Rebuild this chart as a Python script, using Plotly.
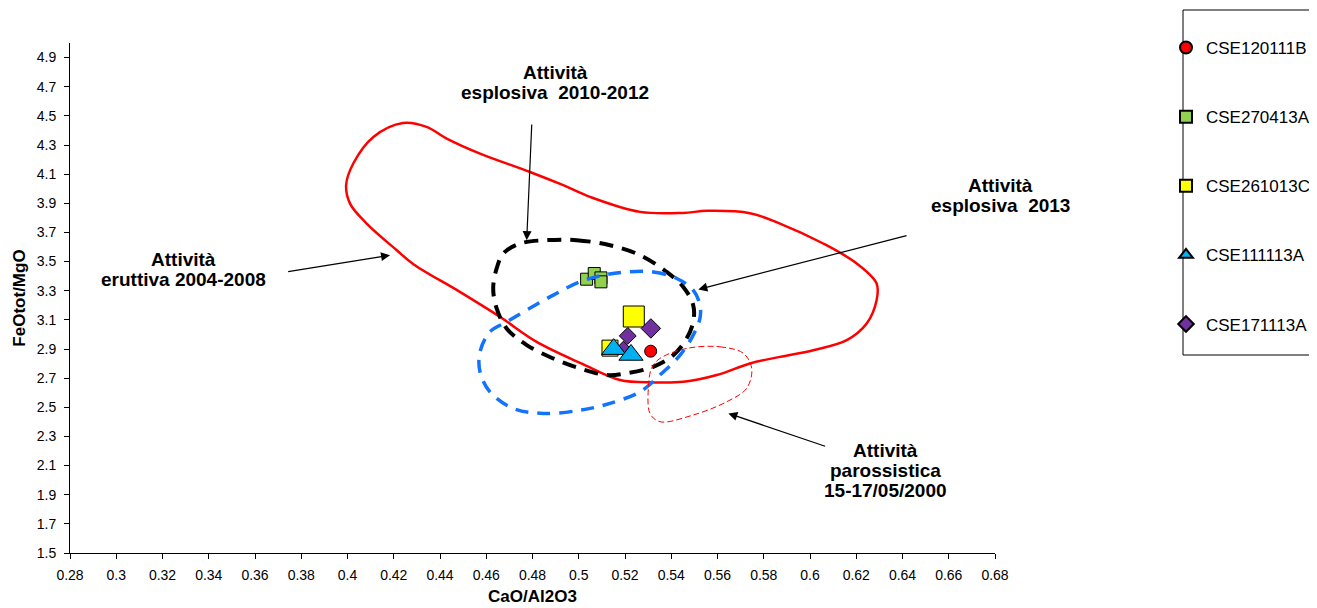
import plotly.graph_objects as go

# ---------------- data ----------------
x_ticks = [0.28, 0.30, 0.32, 0.34, 0.36, 0.38, 0.40, 0.42, 0.44, 0.46, 0.48,
           0.50, 0.52, 0.54, 0.56, 0.58, 0.60, 0.62, 0.64, 0.66, 0.68]
x_tick_labels = ["0.28", "0.3", "0.32", "0.34", "0.36", "0.38", "0.4", "0.42", "0.44",
                 "0.46", "0.48", "0.5", "0.52", "0.54", "0.56", "0.58", "0.6", "0.62",
                 "0.64", "0.66", "0.68"]
y_ticks = [1.5, 1.7, 1.9, 2.1, 2.3, 2.5, 2.7, 2.9, 3.1, 3.3, 3.5, 3.7, 3.9, 4.1, 4.3, 4.5, 4.7, 4.9]
y_tick_labels = ["1.5", "1.7", "1.9", "2.1", "2.3", "2.5", "2.7", "2.9", "3.1", "3.3",
                 "3.5", "3.7", "3.9", "4.1", "4.3", "4.5", "4.7", "4.9"]

# samples (CaO/Al2O3, FeOtot/MgO)
cse120111b_x = [0.5311]
cse120111b_y = [2.885]
cse270413a_x = [0.5034, 0.5067, 0.5096, 0.5096]
cse270413a_y = [3.379, 3.418, 3.388, 3.361]
cse261013c_x = [0.5238, 0.5135]
cse261013c_y = [3.123, 2.906]
cse111113a_x = [0.5151, 0.5226]
cse111113a_y = [2.899, 2.859]
cse171113a_x = [0.5312, 0.5212, 0.5193]
cse171113a_y = [3.041, 2.990, 2.904]

# fields (envelopes)
eruttiva_x = [0.5265, 0.5451, 0.5555, 0.5740, 0.5870, 0.6057, 0.6202, 0.6288, 0.6288,
              0.6245, 0.6159, 0.6014, 0.5870, 0.5740, 0.5597, 0.5452, 0.5322, 0.5178,
              0.5011, 0.4818, 0.4659, 0.4486, 0.4285, 0.4213, 0.4083, 0.4011, 0.3994,
              0.4025, 0.4112, 0.4240, 0.4342, 0.4429, 0.4573, 0.4789, 0.4933, 0.5049,
              0.5265]
eruttiva_y = [3.841, 3.834, 3.848, 3.832, 3.761, 3.624, 3.487, 3.350, 3.235,
              3.075, 2.961, 2.892, 2.846, 2.801, 2.721, 2.675, 2.671, 2.687,
              2.801, 2.949, 3.121, 3.292, 3.482, 3.578, 3.761, 3.898, 4.024,
              4.173, 4.355, 4.451, 4.424, 4.344, 4.241, 4.115, 4.024, 3.944,
              3.841]

esplosiva1012_x = [0.4861, 0.4991, 0.5135, 0.5265, 0.5380, 0.5452, 0.5495, 0.5495, 0.5467,
                   0.5409, 0.5322, 0.5207, 0.5121, 0.5005, 0.4890, 0.4775, 0.4688, 0.4645,
                   0.4630, 0.4645, 0.4674, 0.4746, 0.4861]
esplosiva1012_y = [3.647, 3.647, 3.612, 3.544, 3.429, 3.326, 3.201, 3.086, 2.973,
                   2.858, 2.778, 2.733, 2.721, 2.767, 2.835, 2.927, 3.041, 3.178,
                   3.316, 3.453, 3.556, 3.624, 3.647]

esplosiva2013_x = [0.5207, 0.5322, 0.5424, 0.5495, 0.5524, 0.5524, 0.5495, 0.5438, 0.5351,
                   0.5265, 0.5135, 0.5011, 0.4847, 0.4717, 0.4616, 0.4573, 0.4573, 0.4616,
                   0.4688, 0.4775, 0.4890, 0.5005, 0.5106, 0.5207]
esplosiva2013_y = [3.429, 3.429, 3.384, 3.304, 3.201, 3.110, 2.995, 2.858, 2.721,
                   2.606, 2.527, 2.481, 2.458, 2.492, 2.606, 2.743, 2.881, 3.018,
                   3.086, 3.167, 3.270, 3.361, 3.407, 3.429]

parossistica_x = [0.5467, 0.5611, 0.5712, 0.5748, 0.5726, 0.5640, 0.5495, 0.5351, 0.5308,
                  0.5301, 0.5315, 0.5351, 0.5467]
parossistica_y = [2.904, 2.915, 2.870, 2.767, 2.630, 2.538, 2.447, 2.401, 2.458,
                  2.632, 2.767, 2.835, 2.904]

field_labels = [["Attività", "eruttiva 2004-2008"],
                ["Attività", "esplosiva  2010-2012"],
                ["Attività", "esplosiva  2013"],
                ["Attività", "parossistica", "15-17/05/2000"]]

FONT = "Liberation Sans, Arial, sans-serif"

# page geometry (the page body has an 8px margin)
OFF = 8
FIG_W, FIG_H = 1317 - OFF, 608 - OFF
L, R, T, B = 70, 995, 43, 553           # plot area in page pixels
W, H = R - L, B - T


def px_x(p):
    return (p - L) / W


def px_y(p):
    return (B - p) / H


fig = go.Figure()

# ---------------- sample markers ----------------
samples = [
    ("CSE120111B", cse120111b_x, cse120111b_y, "circle", "#FF0000", [12], 1),
    ("CSE270413A", cse270413a_x, cse270413a_y, "square", "#92D050", [12, 12, 12, 12], 2),
    ("CSE261013C", cse261013c_x, cse261013c_y, "square", "#FFFF00", [21, 16], 3),
    ("CSE171113A", cse171113a_x, cse171113a_y, "diamond", "#7030A0", [15, 13, 11], 5),
    ("CSE111113A", cse111113a_x, cse111113a_y, "triangle-up", "#00B0F0", [21, 21], 4),
]
for name, xs, ys, sym, col, sizes, rank in samples:
    fig.add_trace(go.Scatter(
        x=xs, y=ys, mode="markers", name=name, legendrank=rank, legendgroup=name,
        marker=dict(symbol=sym, color=col, size=sizes, opacity=1,
                    line=dict(color="black", width=1)),
    ))

# ---------------- envelopes ----------------
fig.add_trace(go.Scatter(x=eruttiva_x, y=eruttiva_y, mode="lines", showlegend=False,
                         line=dict(color="#FF0000", width=2.5, shape="spline", smoothing=1.0),
                         hoverinfo="skip"))
fig.add_trace(go.Scatter(x=esplosiva1012_x, y=esplosiva1012_y, mode="lines", showlegend=False,
                         line=dict(color="black", width=4, dash="14px,9px", shape="spline", smoothing=1.0),
                         hoverinfo="skip"))
fig.add_trace(go.Scatter(x=esplosiva2013_x, y=esplosiva2013_y, mode="lines", showlegend=False,
                         line=dict(color="#1273FF", width=3.5, dash="13px,9px", shape="spline", smoothing=1.0),
                         hoverinfo="skip"))
fig.add_trace(go.Scatter(x=parossistica_x, y=parossistica_y, mode="lines", showlegend=False,
                         line=dict(color="#FF0000", width=1, dash="6px,3px", shape="spline", smoothing=1.0),
                         hoverinfo="skip"))

# ---------------- annotations ----------------
ann_font = dict(family=FONT, size=19, color="black")
label_pos = [(183, 269), (555, 82), (1001, 195), (885, 470)]   # block centres, page px
LINE_GAP = 20
for lines, (lx, ly) in zip(field_labels, label_pos):
    n = len(lines)
    for i, txt in enumerate(lines):
        yy = ly + (i - (n - 1) / 2) * LINE_GAP
        fig.add_annotation(x=px_x(lx), y=px_y(yy), xref="paper", yref="paper",
                           text="<b>" + txt + "</b>", showarrow=False, font=ann_font,
                           xanchor="center", yanchor="middle")

arrows = [  # (tip_x, tip_y, tail_x, tail_y) in data units
    (0.4184, 3.544, 0.3737, 3.429),
    (0.4775, 3.647, 0.4797, 4.451),
    (0.5517, 3.309, 0.6424, 3.681),
    (0.5647, 2.458, 0.6072, 2.229),
]
for tx, ty, sx, sy in arrows:
    fig.add_annotation(x=tx, y=ty, ax=sx, ay=sy, xref="x", yref="y", axref="x", ayref="y",
                       text="", showarrow=True, arrowhead=2, arrowsize=1.5, arrowwidth=1.2,
                       arrowcolor="black", standoff=0, startstandoff=0)

# legend frame
fig.add_shape(type="rect", xref="paper", yref="paper",
              x0=px_x(1183), x1=px_x(1340), y0=px_y(355), y1=px_y(10),
              line=dict(color="black", width=1), fillcolor="rgba(0,0,0,0)")

fig.update_layout(
    width=FIG_W, height=FIG_H,
    margin=dict(l=L - OFF, r=FIG_W - (R - OFF), t=T - OFF, b=FIG_H - (B - OFF), autoexpand=False),
    paper_bgcolor="white", plot_bgcolor="white",
    font=dict(family=FONT, color="black"),
    showlegend=True,
    legend=dict(x=px_x(1166), y=px_y(342), xanchor="left", yanchor="bottom",
                bgcolor="rgba(0,0,0,0)", borderwidth=0, font=dict(size=17, family=FONT),
                itemsizing="constant", tracegroupgap=44, traceorder="grouped"),
)
fig.update_xaxes(range=[0.28, 0.68], tickvals=x_ticks, ticktext=x_tick_labels, automargin=False,
                 showline=True, linecolor="black", linewidth=1, ticks="outside", ticklen=5,
                 tickcolor="black", showgrid=False, zeroline=False, tickfont=dict(size=14),
                 ticklabelstandoff=4,
                 title=dict(text="<b>CaO/Al2O3</b>", font=dict(size=17), standoff=8))
fig.update_yaxes(range=[1.5, 5.0], tickvals=y_ticks, ticktext=y_tick_labels, automargin=False,
                 showline=True, linecolor="black", linewidth=1, ticks="outside", ticklen=5,
                 tickcolor="black", showgrid=False, zeroline=False, tickfont=dict(size=14),
                 ticklabelstandoff=5,
                 title=dict(text="<b>FeOtot/MgO</b>", font=dict(size=17), standoff=6))

fig.write_html("out.html")
